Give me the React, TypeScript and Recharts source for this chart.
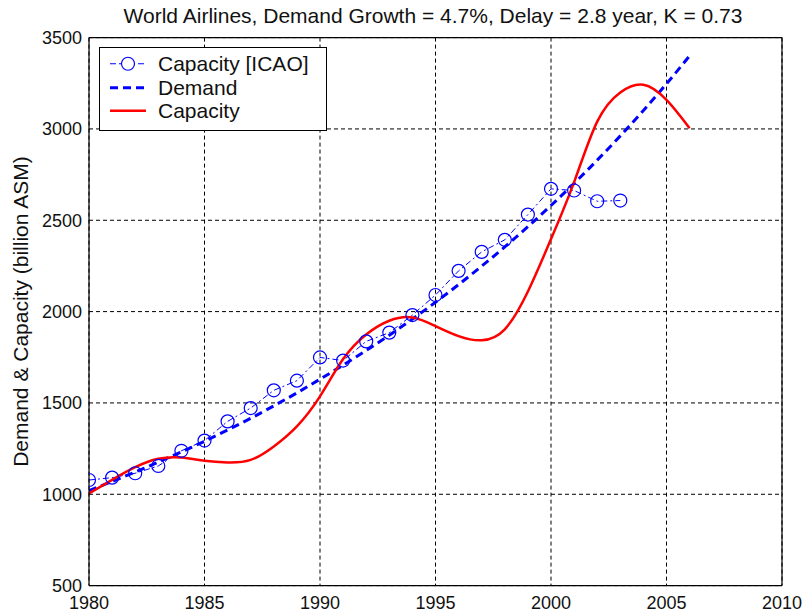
import { LineChart, Line, XAxis, YAxis, CartesianGrid, ReferenceLine } from 'recharts';

// values (billion ASM)
const years = [
  1980, 1981, 1982, 1983, 1984, 1985, 1986, 1987, 1988, 1989, 1990, 1991, 1992, 1993,
  1994, 1995, 1996, 1997, 1998, 1999, 2000, 2001, 2002, 2003, 2004, 2005, 2006,
];
const capacityIcao = [
  1078, 1091, 1115, 1155, 1238, 1294, 1399, 1472, 1569, 1622, 1749, 1732, 1837, 1885,
  1981, 2091, 2223, 2327, 2393, 2531, 2672, 2663, 2604, 2608,
];
const demand = [
  1020, 1070, 1122, 1176, 1232, 1290, 1352, 1416, 1484, 1555, 1630, 1707, 1787, 1871,
  1959, 2051, 2148, 2249, 2354, 2465, 2581, 2702, 2829, 2962, 3101, 3247, 3400,
];
const capacity = [
  1005, 1079, 1148, 1194, 1201, 1183, 1174, 1188, 1262, 1372, 1536, 1740, 1875, 1950,
  1968, 1921, 1866, 1843, 1903, 2110, 2397, 2709, 3040, 3200, 3242, 3159, 3004,
];
const xTicks = [1980, 1985, 1990, 1995, 2000, 2005, 2010];
const yTicks = [500, 1000, 1500, 2000, 2500, 3000, 3500];

const FONT = '"Liberation Sans", Arial, Helvetica, sans-serif';
const BLUE = '#0000ff';
const RED = '#ff0000';

const data = years.map((year, i) => ({
  year,
  icao: capacityIcao[i],
  demand: demand[i],
  capacity: capacity[i],
}));

function OpenCircle(props: any) {
  const { cx, cy, index } = props;
  if (cx == null || cy == null) return <g key={`c${index}`} />;
  return (
    <circle key={`c${index}`} cx={cx} cy={cy} r={6.5} fill="none" stroke={BLUE} strokeWidth={1.2} />
  );
}

const legendRows = [
  { label: 'Capacity [ICAO]', color: BLUE, dash: '6 3 2 3', width: 1, marker: true },
  { label: 'Demand', color: BLUE, dash: '8 5', width: 3, marker: false },
  { label: 'Capacity', color: RED, dash: undefined, width: 2.5, marker: false },
];

export default function App() {
  return (
    <div style={{ position: 'absolute', left: 0, top: 0, width: 805, height: 615, background: '#fff', fontFamily: FONT }}>
      <div
        style={{
          position: 'absolute', left: 0, top: 5, width: 866, textAlign: 'center',
          fontSize: 21, lineHeight: '21px', color: '#111',
        }}
      >
        World Airlines, Demand Growth = 4.7%, Delay = 2.8 year, K = 0.73
      </div>

      <LineChart
        width={805}
        height={615}
        data={data}
        margin={{ top: 37.6, right: 23, left: 0, bottom: 4 }}
        style={{ fontFamily: FONT }}
      >
        <CartesianGrid stroke="#000" strokeDasharray="4 3" strokeWidth={1} />
        <XAxis
          dataKey="year"
          type="number"
          domain={[1980, 2010]}
          ticks={xTicks}
          allowDataOverflow
          height={25.4}
          tickLine={false}
          tickSize={6}
          tickMargin={4.5}
          axisLine={{ stroke: '#000', strokeWidth: 1.2 }}
          tick={{ fill: '#111', fontSize: 18 }}
        />
        <YAxis
          type="number"
          domain={[500, 3500]}
          ticks={yTicks}
          allowDataOverflow
          width={89}
          tickLine={false}
          tickSize={6}
          tickMargin={1}
          axisLine={{ stroke: '#000', strokeWidth: 1.2 }}
          tick={{ fill: '#111', fontSize: 18 }}
          label={{
            value: 'Demand & Capacity (billion ASM)',
            angle: -90,
            position: 'center',
            dx: -23.7,
            style: { fontSize: 21, fill: '#111', textAnchor: 'middle' },
          }}
        />
        <ReferenceLine y={3500} stroke="#000" strokeWidth={1.2} />
        <ReferenceLine x={2010} stroke="#000" strokeWidth={1.2} />
        <Line
          dataKey="icao"
          type="linear"
          stroke={BLUE}
          strokeWidth={1}
          strokeDasharray="6 3 2 3"
          dot={OpenCircle}
          activeDot={false}
          isAnimationActive={false}
        />
        <Line
          dataKey="demand"
          type="monotone"
          stroke={BLUE}
          strokeWidth={3}
          strokeDasharray="8 5"
          dot={false}
          activeDot={false}
          isAnimationActive={false}
        />
        <Line
          dataKey="capacity"
          type="natural"
          stroke={RED}
          strokeWidth={2.5}
          dot={false}
          activeDot={false}
          isAnimationActive={false}
        />
      </LineChart>

      <div
        style={{
          position: 'absolute', left: 99, top: 47, width: 226, height: 78,
          border: '1px solid #000', background: '#fff', paddingTop: 4, boxSizing: 'content-box',
        }}
      >
        {legendRows.map((row) => (
          <div key={row.label} style={{ position: 'relative', height: 23.5 }}>
            <svg width={40} height={23.5} style={{ position: 'absolute', left: 8, top: 0 }}>
              <line
                x1={2} x2={38} y1={11.75} y2={11.75}
                stroke={row.color} strokeWidth={row.width} strokeDasharray={row.dash}
              />
              {row.marker && (
                <circle cx={20} cy={11.75} r={6.5} fill="#fff" stroke={BLUE} strokeWidth={1.2} />
              )}
            </svg>
            <span
              style={{
                position: 'absolute', left: 58, top: 0, fontSize: 21, lineHeight: '23.5px', color: '#111',
              }}
            >
              {row.label}
            </span>
          </div>
        ))}
      </div>
    </div>
  );
}
